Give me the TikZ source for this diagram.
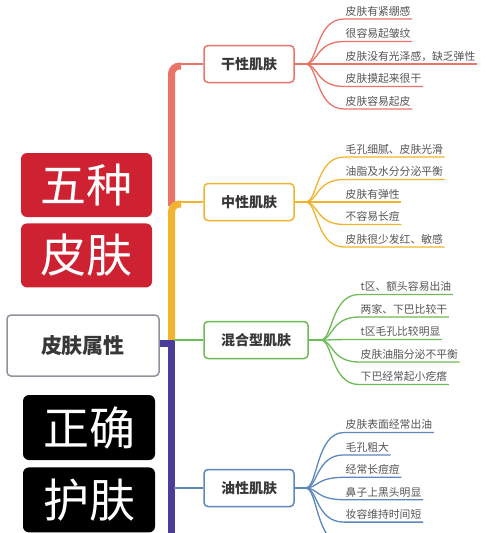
\documentclass[tikz,border=0pt]{standalone}
\usepackage{fontspec}
\setmainfont{Noto Sans CJK SC}
\usetikzlibrary{positioning}

\definecolor{drycol}{HTML}{EA7468}
\definecolor{neucol}{HTML}{F2B42E}
\definecolor{mixcol}{HTML}{6DBB57}
\definecolor{oilcol}{HTML}{5C88BE}
\definecolor{trunkpurple}{HTML}{4A3C98}
\definecolor{boxred}{HTML}{CE2233}
\definecolor{attrgray}{HTML}{8E939E}
\definecolor{textgray}{HTML}{383838}
\definecolor{leafgray}{HTML}{555555}

\begin{document}
\begin{tikzpicture}[x=1pt, y=-1pt, node distance=6pt,
  bigbox/.style={rectangle, rounded corners=6pt, minimum width=131pt, minimum height=64pt, text=white, inner sep=0pt, font=\fontsize{46}{46}\selectfont},
  catbox/.style={rectangle, draw, fill=white, rounded corners=4pt, line width=1.5pt, minimum height=37pt, inner xsep=17pt, text=textgray, font=\fontsize{14}{14}\selectfont\bfseries},
  leaf/.style={anchor=south west, inner xsep=1.5pt, inner ysep=2.5pt, text=leafgray, font=\fontsize{10.8}{11}\selectfont},
  twig/.style={line width=1.3pt},
  stem/.style={line width=2pt},
  trunk/.style={line width=7pt}]

  \useasboundingbox (0,0) rectangle (500,533);
  \clip (0,0) rectangle (500,533);
  \fill[white] (0,0) rectangle (500,533);

  % Left column
  \node[bigbox, fill=boxred] (five) at (86.5,185) {五种};
  \node[bigbox, fill=boxred] (skin) [below=of five] {皮肤};
  \node[rectangle, draw=attrgray, line width=1.5pt, fill=white, rounded corners=4pt, minimum width=152pt, minimum height=61pt, text=textgray, font=\fontsize{21}{21}\selectfont\bfseries] (attr) at (83,345.5) {皮肤属性};
  \node[bigbox, fill=black, minimum width=132pt, minimum height=65pt] (right) at (89,427.5) {正确};
  \node[bigbox, fill=black, minimum width=132pt, minimum height=65pt] (care) [below=7pt of right] {护肤};

  % Trunk
  \coordinate (drybase) at (171.5,206);
  \coordinate (drycorner) at (181,66);
  \coordinate (neubase) at (171.5,340);
  \coordinate (neucorner) at (181,204);
  \coordinate (purpbase) at (171.5,540);
  \coordinate (mixstart) at (174,340);
  \coordinate (oilstart) at (174,488);
  \draw[trunk, drycol, rounded corners=8pt] (drybase) |- (drycorner);
  \draw[trunk, neucol, rounded corners=8pt] (neubase) |- (neucorner);
  \draw[trunk, trunkpurple] ([yshift=2pt]attr.east) -| (purpbase);

  % Category boxes
  \node[catbox, draw=drycol] (dry) at (249,64) {干性肌肤};
  \node[catbox, draw=neucol] (neu) at (249,202) {中性肌肤};
  \node[catbox, draw=mixcol] (mix) at (256,340) {混合型肌肤};
  \node[catbox, draw=oilcol] (oil) at (249,488) {油性肌肤};

  \draw[stem, drycol] (178,64) -- (dry.west);
  \draw[stem, neucol] (178,202) -- (neu.west);
  \draw[stem, mixcol] (mixstart) -- (mix.west);
  \draw[stem, oilcol] (oilstart) -- (oil.west);

  % Leaves
  \coordinate (dryfan) at ([xshift=11pt]dry.east);
  \draw[twig, drycol] (dry.east) -- (dryfan);
  \foreach \txt [count=\i] in {皮肤有紧绷感, 很容易起皱纹, 皮肤没有光泽感，缺乏弹性, 皮肤摸起来很干, 皮肤容易起皮} {
    \node[leaf] (d\i) at (344,{64+22.5*(\i-3)}) {\txt};
    \draw[twig, drycol] (dryfan) .. controls +(12,0) and +(-28,0) .. (d\i.south west) -- (d\i.south east);
  }

  \coordinate (neufan) at ([xshift=11pt]neu.east);
  \draw[twig, neucol] (neu.east) -- (neufan);
  \foreach \txt [count=\i] in {毛孔细腻、皮肤光滑, 油脂及水分分泌平衡, 皮肤有弹性, 不容易长痘, 皮肤很少发红、敏感} {
    \node[leaf] (n\i) at (344,{202+22.5*(\i-3)}) {\txt};
    \draw[twig, neucol] (neufan) .. controls +(12,0) and +(-28,0) .. (n\i.south west) -- (n\i.south east);
  }

  \coordinate (mixfan) at ([xshift=12pt]mix.east);
  \draw[twig, mixcol] (mix.east) -- (mixfan);
  \foreach \txt [count=\i] in {t区、额头容易出油, 两家、下巴比较干, t区毛孔比较明显, 皮肤油脂分泌不平衡, 下巴经常起小疙瘩} {
    \node[leaf] (m\i) at (359,{339.5+22.5*(\i-3)}) {\txt};
    \draw[twig, mixcol] (mixfan) .. controls +(12,0) and +(-28,0) .. (m\i.south west) -- (m\i.south east);
  }

  \coordinate (oilfan) at ([xshift=11pt]oil.east);
  \draw[twig, oilcol] (oil.east) -- (oilfan);
  \foreach \txt [count=\i] in {皮肤表面经常出油, 毛孔粗大, 经常长痘痘, 鼻子上黑头明显, 妆容维持时间短} {
    \node[leaf] (o\i) at (344,{488.5+22.4*(\i-3.5)}) {\txt};
    \draw[twig, oilcol] (oilfan) .. controls +(12,0) and +(-28,0) .. (o\i.south west) -- (o\i.south east);
  }
  \coordinate (o6) at (344,544.5);
  \draw[twig, oilcol] (oilfan) .. controls +(12,0) and +(-28,0) .. (o6);

\end{tikzpicture}
\end{document}
